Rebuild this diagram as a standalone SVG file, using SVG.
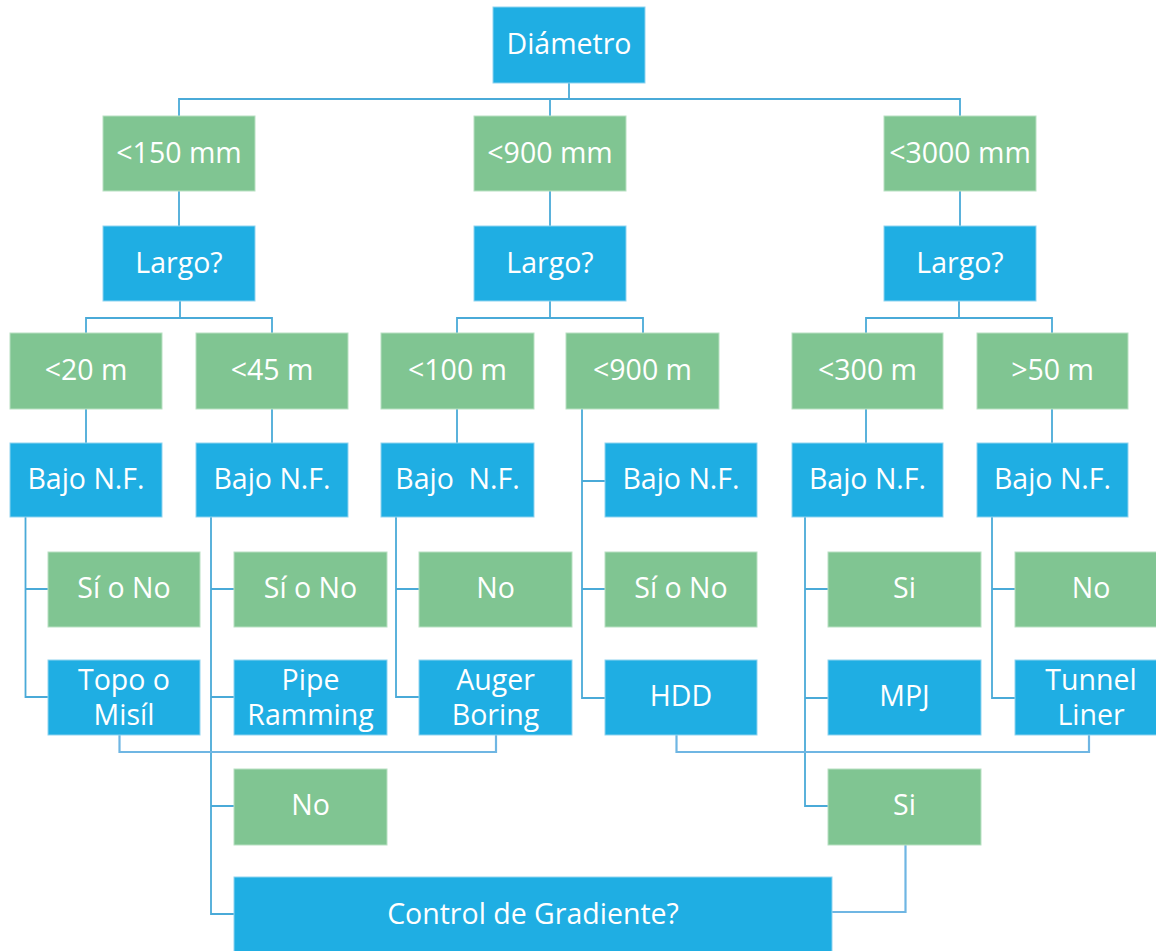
<svg xmlns="http://www.w3.org/2000/svg" width="1156" height="951" viewBox="0 0 1156 951">
<style>
.b{fill:#1FAEE3;stroke:#8fd3ef;stroke-width:1}
.g{fill:#80C592;stroke:#b8e0c2;stroke-width:1}
text{font-family:"Open Sans","Noto Sans","Liberation Sans",sans-serif;font-size:28.5px;fill:#ffffff;text-anchor:middle;dominant-baseline:central}
.c{fill:none;stroke:#4AAAD8;stroke-width:1.8}
.c2{fill:none;stroke:#6FB6E3;stroke-width:2.2}
</style>
<rect width="1156" height="951" fill="#ffffff"/>
<g id="connectors">
<path class="c" d="M569 83V99M179 116V99H960V116M550 99V116"/>
<path class="c" d="M179 191V226M550 191V226M960 191V226"/>
<path class="c" d="M180 301V318M86 333V318H272V333M550 301V318M457 333V318H643V333M959 301V318M866 333V318H1052V333"/>
<path class="c" d="M86 409V443M272 409V443M457 409V443M866 409V443M1052 409V443"/>
<path class="c" d="M25.5 517V697H48M25.5 589H48"/>
<path class="c" d="M211 517V914H234M211 589H234M211 697H234M211 806H234"/>
<path class="c" d="M396 517V697H419M396 589H419"/>
<path class="c" d="M582 409V698H605M582 481H605M582 589H605"/>
<path class="c" d="M805 517V806H828M805 589H828M805 698H828"/>
<path class="c" d="M992 517V698H1015M992 589H1015"/>
<path class="c2" d="M119.5 735V752H496V735M676.5 735V752H1089V735"/>
<path class="c2" d="M905.5 845V912H832"/>
</g>
<g id="n-diametro"><rect class="b" x="493" y="7" width="152" height="76"/><text x="569" y="43">Diámetro</text></g>
<g id="n-150"><rect class="g" x="103" y="116" width="152" height="75"/><text x="179" y="151.5">&lt;150 mm</text></g>
<g id="n-900mm"><rect class="g" x="474" y="116" width="152" height="75"/><text x="550" y="151.5">&lt;900 mm</text></g>
<g id="n-3000"><rect class="g" x="884" y="116" width="152" height="75"/><text x="960" y="151.5">&lt;3000 mm</text></g>
<g id="n-largo1"><rect class="b" x="103" y="226" width="152" height="75"/><text x="179" y="261.5">Largo?</text></g>
<g id="n-largo2"><rect class="b" x="474" y="226" width="152" height="75"/><text x="550" y="261.5">Largo?</text></g>
<g id="n-largo3"><rect class="b" x="884" y="226" width="152" height="75"/><text x="960" y="261.5">Largo?</text></g>
<g id="n-20"><rect class="g" x="10" y="333" width="152" height="76"/><text x="86" y="369">&lt;20 m</text></g>
<g id="n-45"><rect class="g" x="196" y="333" width="152" height="76"/><text x="272" y="369">&lt;45 m</text></g>
<g id="n-100"><rect class="g" x="381" y="333" width="153" height="76"/><text x="457.5" y="369">&lt;100 m</text></g>
<g id="n-900m"><rect class="g" x="566" y="333" width="153" height="76"/><text x="642.5" y="369">&lt;900 m</text></g>
<g id="n-300"><rect class="g" x="792" y="333" width="151" height="76"/><text x="867.5" y="369">&lt;300 m</text></g>
<g id="n-50"><rect class="g" x="977" y="333" width="151" height="76"/><text x="1052.5" y="369">&gt;50 m</text></g>
<g id="n-bajo1"><rect class="b" x="10" y="443" width="152" height="74"/><text x="86" y="478">Bajo N.F.</text></g>
<g id="n-bajo2"><rect class="b" x="196" y="443" width="152" height="74"/><text x="272" y="478">Bajo N.F.</text></g>
<g id="n-bajo3"><rect class="b" x="381" y="443" width="153" height="74"/><text x="457.5" y="478" xml:space="preserve">Bajo  N.F.</text></g>
<g id="n-bajo4"><rect class="b" x="605" y="443" width="152" height="74"/><text x="681" y="478">Bajo N.F.</text></g>
<g id="n-bajo5"><rect class="b" x="792" y="443" width="151" height="74"/><text x="867.5" y="478">Bajo N.F.</text></g>
<g id="n-bajo6"><rect class="b" x="977" y="443" width="151" height="74"/><text x="1052.5" y="478">Bajo N.F.</text></g>
<g id="n-sino1"><rect class="g" x="48" y="552" width="152" height="75"/><text x="124" y="587">Sí o No</text></g>
<g id="n-sino2"><rect class="g" x="234" y="552" width="153" height="75"/><text x="310.5" y="587">Sí o No</text></g>
<g id="n-no1"><rect class="g" x="419" y="552" width="153" height="75"/><text x="495.5" y="587">No</text></g>
<g id="n-sino3"><rect class="g" x="605" y="552" width="152" height="75"/><text x="681" y="587">Sí o No</text></g>
<g id="n-si1"><rect class="g" x="828" y="552" width="153" height="75"/><text x="904.5" y="587">Si</text></g>
<g id="n-no2"><rect class="g" x="1015" y="552" width="152" height="75"/><text x="1091" y="587">No</text></g>
<g id="n-topo"><rect class="b" x="48" y="660" width="152" height="75"/><text x="124" y="679">Topo o</text><text x="124" y="714">Misíl</text></g>
<g id="n-pipe"><rect class="b" x="234" y="660" width="153" height="75"/><text x="310.5" y="679">Pipe</text><text x="310.5" y="714">Ramming</text></g>
<g id="n-auger"><rect class="b" x="419" y="660" width="153" height="75"/><text x="495.5" y="679">Auger</text><text x="495.5" y="714">Boring</text></g>
<g id="n-hdd"><rect class="b" x="605" y="660" width="152" height="75"/><text x="681" y="695">HDD</text></g>
<g id="n-mpj"><rect class="b" x="828" y="660" width="153" height="75"/><text x="904.5" y="695">MPJ</text></g>
<g id="n-tunnel"><rect class="b" x="1015" y="660" width="152" height="75"/><text x="1091" y="679">Tunnel</text><text x="1091" y="714">Liner</text></g>
<g id="n-no3"><rect class="g" x="234" y="769" width="153" height="76"/><text x="310.5" y="804">No</text></g>
<g id="n-si2"><rect class="g" x="828" y="769" width="153" height="76"/><text x="904.5" y="804">Si</text></g>
<g id="n-control"><rect class="b" x="234" y="877" width="598" height="90"/><text x="533" y="913">Control de Gradiente?</text></g>
</svg>
